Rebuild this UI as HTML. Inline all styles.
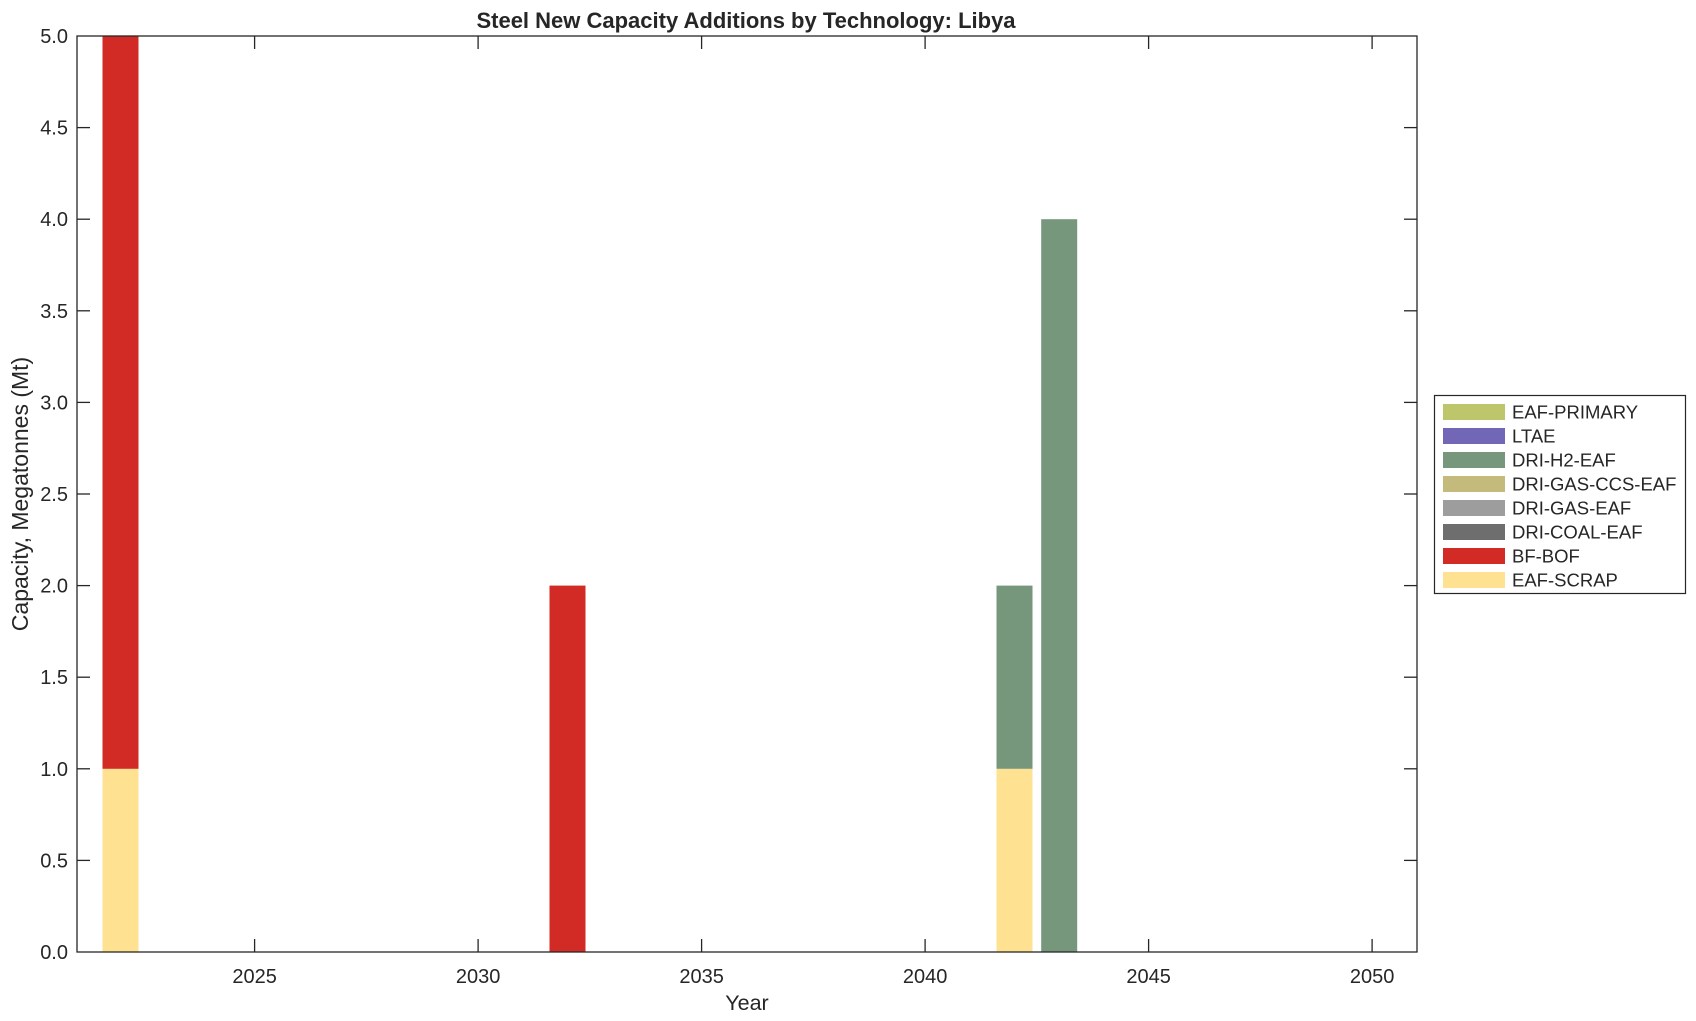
<!DOCTYPE html>
<html><head><meta charset="utf-8"><style>
html,body{margin:0;padding:0;background:#fff;}
svg{display:block;}
text{font-family:"Liberation Sans",sans-serif;fill:#262626;}
</style></head><body>
<svg width="1696" height="1021" viewBox="0 0 1696 1021" xmlns="http://www.w3.org/2000/svg">
<rect width="1696" height="1021" fill="#fff"/>
<rect x="102.5" y="768.8" width="36" height="183.2" fill="#FEE292"/>
<rect x="102.5" y="36" width="36" height="732.8" fill="#D22B25"/>
<rect x="549.5" y="585.6" width="36" height="366.4" fill="#D22B25"/>
<rect x="996.5" y="768.8" width="36" height="183.2" fill="#FEE292"/>
<rect x="996.5" y="585.6" width="36" height="183.2" fill="#76977C"/>
<rect x="1041.2" y="219.2" width="36" height="732.8" fill="#76977C"/>
<rect x="77" y="36" width="1340" height="916" fill="none" stroke="#262626" stroke-width="1.3"/>
<g stroke="#262626" stroke-width="1.3">
<line x1="254.6" y1="952" x2="254.6" y2="939"/><line x1="254.6" y1="36" x2="254.6" y2="49"/>
<line x1="478.1" y1="952" x2="478.1" y2="939"/><line x1="478.1" y1="36" x2="478.1" y2="49"/>
<line x1="701.6" y1="952" x2="701.6" y2="939"/><line x1="701.6" y1="36" x2="701.6" y2="49"/>
<line x1="925.1" y1="952" x2="925.1" y2="939"/><line x1="925.1" y1="36" x2="925.1" y2="49"/>
<line x1="1148.6" y1="952" x2="1148.6" y2="939"/><line x1="1148.6" y1="36" x2="1148.6" y2="49"/>
<line x1="1372.1" y1="952" x2="1372.1" y2="939"/><line x1="1372.1" y1="36" x2="1372.1" y2="49"/>
<line x1="77" y1="860.4" x2="90" y2="860.4"/><line x1="1417" y1="860.4" x2="1404" y2="860.4"/>
<line x1="77" y1="768.8" x2="90" y2="768.8"/><line x1="1417" y1="768.8" x2="1404" y2="768.8"/>
<line x1="77" y1="677.2" x2="90" y2="677.2"/><line x1="1417" y1="677.2" x2="1404" y2="677.2"/>
<line x1="77" y1="585.6" x2="90" y2="585.6"/><line x1="1417" y1="585.6" x2="1404" y2="585.6"/>
<line x1="77" y1="494" x2="90" y2="494"/><line x1="1417" y1="494" x2="1404" y2="494"/>
<line x1="77" y1="402.4" x2="90" y2="402.4"/><line x1="1417" y1="402.4" x2="1404" y2="402.4"/>
<line x1="77" y1="310.8" x2="90" y2="310.8"/><line x1="1417" y1="310.8" x2="1404" y2="310.8"/>
<line x1="77" y1="219.2" x2="90" y2="219.2"/><line x1="1417" y1="219.2" x2="1404" y2="219.2"/>
<line x1="77" y1="127.6" x2="90" y2="127.6"/><line x1="1417" y1="127.6" x2="1404" y2="127.6"/>
</g>
<g font-size="20" text-anchor="middle">
<text x="254.6" y="983">2025</text><text x="478.1" y="983">2030</text><text x="701.6" y="983">2035</text>
<text x="925.1" y="983">2040</text><text x="1148.6" y="983">2045</text><text x="1372.1" y="983">2050</text>
</g>
<g font-size="20" text-anchor="end">
<text x="68" y="959">0.0</text><text x="68" y="867.4">0.5</text><text x="68" y="775.8">1.0</text>
<text x="68" y="684.2">1.5</text><text x="68" y="592.6">2.0</text><text x="68" y="501">2.5</text>
<text x="68" y="409.4">3.0</text><text x="68" y="317.8">3.5</text><text x="68" y="226.2">4.0</text>
<text x="68" y="134.6">4.5</text><text x="68" y="43">5.0</text>
</g>
<text x="747" y="1010" font-size="21.5" text-anchor="middle">Year</text>
<text transform="translate(28,494) rotate(-90)" font-size="23" text-anchor="middle">Capacity, Megatonnes (Mt)</text>
<text x="746" y="28" font-size="22" font-weight="bold" text-anchor="middle" fill="#000">Steel New Capacity Additions by Technology: Libya</text>
<rect x="1434.5" y="395.5" width="251" height="198" fill="#fff" stroke="#262626" stroke-width="1.2"/>
<g font-size="18.5">
<rect x="1443" y="404" width="62" height="16" fill="#BDC66A"/><text x="1512" y="418.5" fill="#000">EAF-PRIMARY</text>
<rect x="1443" y="428" width="62" height="16" fill="#7267B7"/><text x="1512" y="442.5" fill="#000">LTAE</text>
<rect x="1443" y="452" width="62" height="16" fill="#76977C"/><text x="1512" y="466.5" fill="#000">DRI-H2-EAF</text>
<rect x="1443" y="476" width="62" height="16" fill="#C3BA7C"/><text x="1512" y="490.5" fill="#000">DRI-GAS-CCS-EAF</text>
<rect x="1443" y="500" width="62" height="16" fill="#9D9D9D"/><text x="1512" y="514.5" fill="#000">DRI-GAS-EAF</text>
<rect x="1443" y="524" width="62" height="16" fill="#6E6E6E"/><text x="1512" y="538.5" fill="#000">DRI-COAL-EAF</text>
<rect x="1443" y="548" width="62" height="16" fill="#D22B25"/><text x="1512" y="562.5" fill="#000">BF-BOF</text>
<rect x="1443" y="572" width="62" height="16" fill="#FEE292"/><text x="1512" y="586.5" fill="#000">EAF-SCRAP</text>
</g>
</svg>
</body></html>
